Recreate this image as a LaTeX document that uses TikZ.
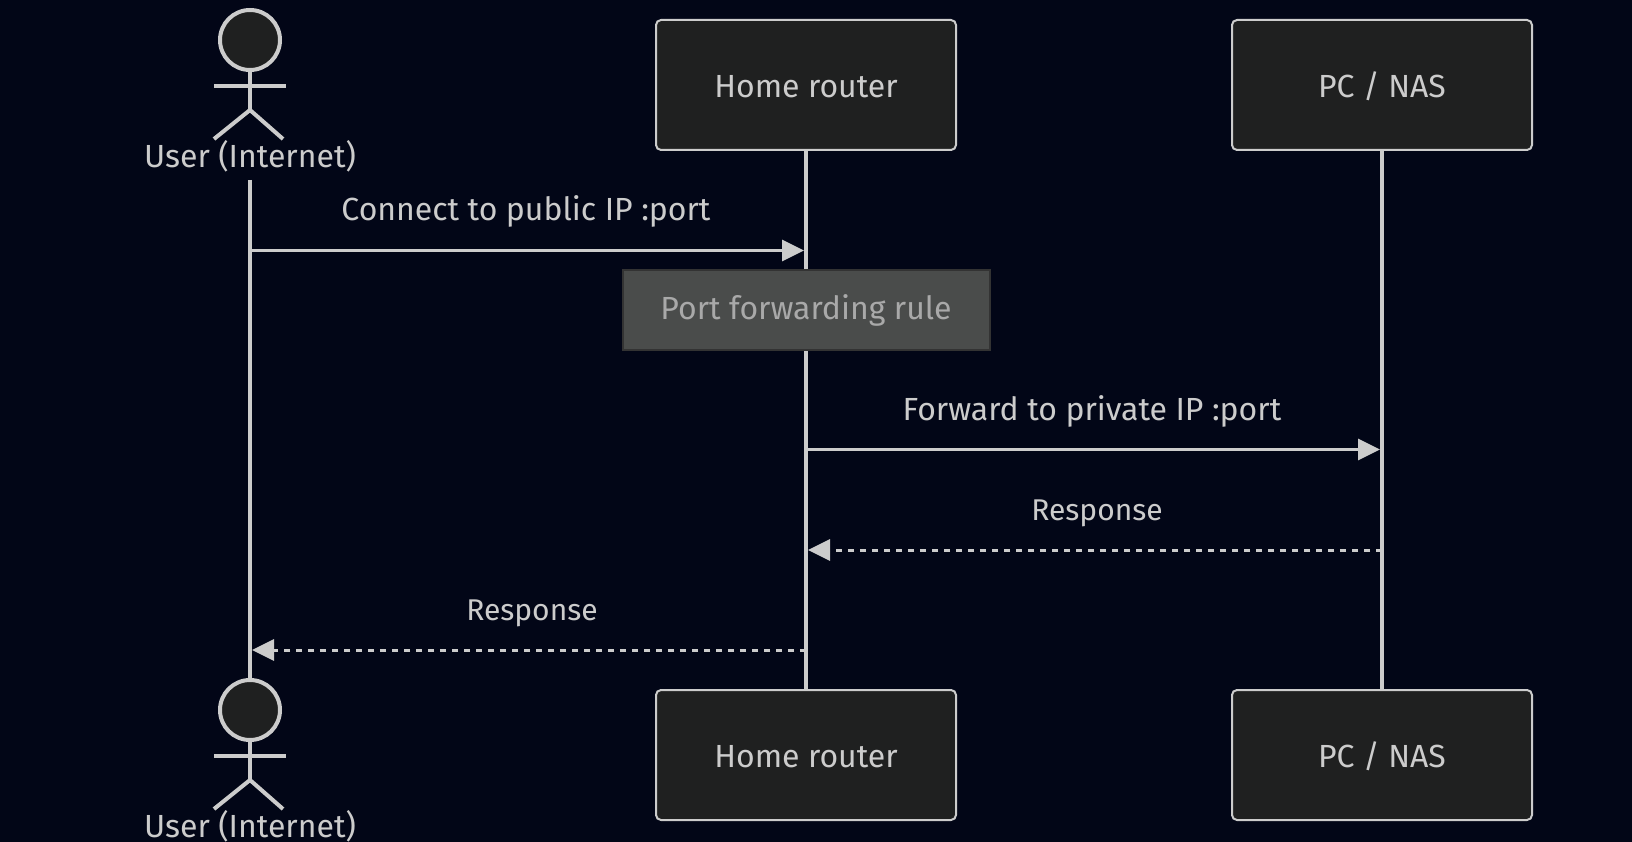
\documentclass[tikz,border=0pt]{standalone}
\usepackage{fontspec}
\setmainfont{Fira Sans}
\usetikzlibrary{arrows.meta,calc}
\definecolor{bgdark}{HTML}{020617}
\definecolor{inkgrey}{HTML}{CCCCCC}
\definecolor{boxfill}{HTML}{1F2020}
\definecolor{notefill}{HTML}{4A4C4B}
\definecolor{noteline}{HTML}{333333}
\definecolor{notetext}{HTML}{A9A9A9}

\begin{document}
\begin{tikzpicture}[x=1pt,y=-1pt,line cap=butt,
every node/.style ={font=\fontsize{32}{38}\selectfont},
actorbox/.style ={rectangle, draw=inkgrey, line width=2pt, fill=boxfill, text=inkgrey, rounded corners=5pt, minimum width=300pt, minimum height=130pt, inner sep=0pt, text height=25pt, text depth=0pt},
head/.style ={circle, draw=inkgrey, line width=4pt, fill=boxfill, minimum size=60pt, inner sep=0pt},
stick/.style ={draw=inkgrey, line width=4pt},
lifeline/.style ={draw=inkgrey, line width=4pt},
tag/.style ={text=inkgrey, anchor=base, inner sep=0pt},
shorttag/.style ={tag, font=\fontsize{30}{36}\selectfont},
notebox/.style ={rectangle, draw=noteline, line width=2pt, fill=notefill, text=notetext, minimum width=367pt, minimum height=79pt, inner sep=0pt, text height=19pt, text depth=0pt},
msg/.style ={draw=inkgrey, line width=3pt, -{Triangle[length=22pt,width=21pt]}, shorten >=2pt},
reply/.style ={draw=inkgrey, line width=3pt, dash pattern=on 6pt off 6pt, -{Triangle[length=22pt,width=21pt]}, shorten >=2pt}
]
\path[fill=bgdark] (0,0) rectangle (1632,842);
\useasboundingbox (0,0) rectangle (1632,842);

% lifelines first, the boxes sit on top
\coordinate (UL) at (250,180);
\coordinate (UB) at (250,680);
\draw[lifeline] (UL)--(UB);
\draw[lifeline] (806,150) coordinate (RT)--(806,690) coordinate (RB);
\draw[lifeline] (1382,150) coordinate (PT)--(1382,690) coordinate (PB);

% actors
\foreach \o/\n in {0/top,670/bot}{
\draw[stick] (250,40+\o)--(250,110+\o);
\draw[stick] (214,86+\o)--(286,86+\o);
\draw[stick] (214,139+\o)--(250,110+\o)--(283,139+\o);
\draw (250,40+\o) node[head] (head\n) {};
\draw (250,167.5+\o) node[tag] (user\n) {User (Internet)};
}

\draw (806,85) node[actorbox] (routertop) {Home router};
\draw (1382,85) node[actorbox] (pctop) {PC / NAS};
\draw (806,755) node[actorbox] (routerbot) {Home router};
\draw (1382,755) node[actorbox] (pcbot) {PC / NAS};
\draw (806,310) node[notebox] (rule) {Port forwarding rule};

% messages
\coordinate (u1) at (250,250.5);
\coordinate (r1) at (806,250.5);
\coordinate (r2) at (806,449.5);
\coordinate (p2) at (1382,449.5);
\coordinate (p3) at (1382,550);
\coordinate (r3) at (806,550);
\coordinate (r4) at (806,650);
\coordinate (u4) at (250,650);
\draw[msg] (u1)--(r1);
\draw[msg] (r2)--(p2);
\draw[reply] (p3)--(r3);
\draw[reply] (r4)--(u4);

\draw (526,220.5) node[tag] (m1) {Connect to public IP :port};
\draw (1092,420) node[tag] (m2) {Forward to private IP :port};
\draw (1097,520) node[shorttag] (m3) {Response};
\draw (532,620) node[shorttag] (m4) {Response};
\end{tikzpicture}
\end{document}
